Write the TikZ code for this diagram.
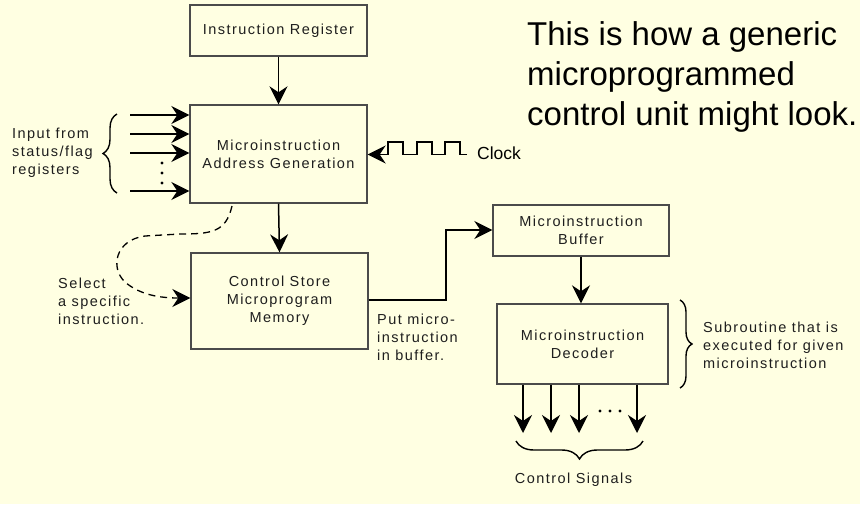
\documentclass[tikz,border=0pt]{standalone}
\usepackage{fontspec}
\setmainfont{Liberation Sans}
\newfontfamily\diafont[LetterSpace=10]{Liberation Sans}
\usetikzlibrary{arrows.meta,decorations.pathreplacing}
\definecolor{bg}{RGB}{255,255,226}
\definecolor{ink}{RGB}{30,30,30}
\tikzset{
  blk/.style={draw=ink!80, line width=1.4pt, minimum width=#1, inner sep=0pt, align=center, text=ink, font=\diafont\fontsize{14.5pt}{18pt}\selectfont},
  lbl/.style={inner sep=0pt, text=ink, font=\diafont\fontsize{14.5pt}{18pt}\selectfont},
  conn/.style={draw=black, line width=1.5pt},
  arr/.style={conn, -{Stealth[length=18pt,width=18pt,inset=6pt]}},
  brc/.style={draw=black, line width=1.4pt, decorate, decoration={brace, amplitude=#1}},
}
\begin{document}
\begin{tikzpicture}[x=1pt,y=-1pt]
\fill[bg] (0,0) rectangle (860,504);
\useasboundingbox (0,0) rectangle (860,504);

% boxes
\node[blk=177pt, minimum height=51pt] (ir) at (278.5,30.5) {Instruction Register};
\node[blk=177pt, minimum height=98pt] (mag) at (278.5,154) {Microinstruction\\Address Generation};
\node[blk=177pt, minimum height=96pt] (cs) at (279.5,301) {Control Store\\Microprogram\\Memory};
\node[blk=176pt, minimum height=51pt] (buf) at (581,230.5) {Microinstruction\\Buffer};
\node[blk=171pt, minimum height=80pt] (dec) at (582.5,344) {Microinstruction\\Decoder};

% main connectors
\draw[arr] (ir.south) -- (mag.north);
\draw[arr] (mag.south) -- (cs.north);
\draw[arr] (buf.south -| dec.north) ++(-1.5,0) coordinate (bd) -- (bd |- dec.north);
\coordinate (csout) at (cs.east |- 0,300);
\draw[arr] (csout) -- (446,300) -- (446,230) -- (buf.west |- 0,230);

% input arrows
\foreach \yy/\nm in {115/a,134/b,153/c,191/d}{
  \coordinate (in\nm) at (130,\yy);
  \draw[arr] (in\nm) -- (mag.west |- in\nm);
}
\foreach \yy in {163,173,183} \fill[black] (162,\yy) circle (1.6pt);
\draw[brc=14pt] (117,193) -- (117,114);
\node[lbl, anchor=west, align=left] (inp) at (12,153) {Input from\\status/flag\\registers};

% clock
\coordinate (clk) at (467,154.5);
\draw[conn] (clk) -- (460,154.5) -- (460,142) -- (445,142) -- (445,154.5) -- (432,154.5) -- (432,142) -- (417,142) -- (417,154.5) -- (403,154.5) -- (403,142) -- (388,142) -- (388,154.5) -- (382,154.5);
\draw[arr] (382,154.5) -- (mag.east |- 0,154.5);
\node[inner sep=0pt, anchor=west, font=\fontsize{17.5pt}{20pt}\selectfont, text=black] (clock) at (477,153) {Clock};

% dashed select arrow
\coordinate (ds) at (232,206);
\draw[arr, line width=1.3pt, dash pattern=on 7pt off 5pt] (ds) .. controls (226,232) and (212,234) .. (180,234) -- (145,236)
  .. controls (115,240) and (110,268) .. (125,282) .. controls (140,295) and (160,298) .. (cs.west |- 0,298);
\node[lbl, anchor=west, align=left] (sel) at (58,301) {Select\\a specific\\instruction.};

\node[lbl, anchor=west, align=left] (put) at (377,337.5) {Put micro-\\instruction\\in buffer.};

% decoder outputs
\foreach \xx/\nm in {523/a,551/b,579/c,637/d}{
  \coordinate (o\nm) at (\xx,433);
  \draw[arr] (dec.south -| o\nm) -- (o\nm);
}
\foreach \xx in {600,610,620} \fill[black] (\xx,411) circle (1.6pt);
\draw[brc=18pt] (643,441) -- (516,441);
\node[lbl] (cs2) at (573.5,480) {Control Signals};

% subroutine brace
\draw[brc=12pt] (680,300) -- (680,388);
\node[lbl, anchor=west, align=left] (sub) at (703,345) {Subroutine that is\\executed for given\\microinstruction};

% title
\node[inner sep=0pt, anchor=west, align=left, font=\fontsize{33pt}{40pt}\selectfont, text=black] (title) at (527,77) {This is how a generic\\microprogrammed\\control unit might look.};
\end{tikzpicture}
\end{document}
